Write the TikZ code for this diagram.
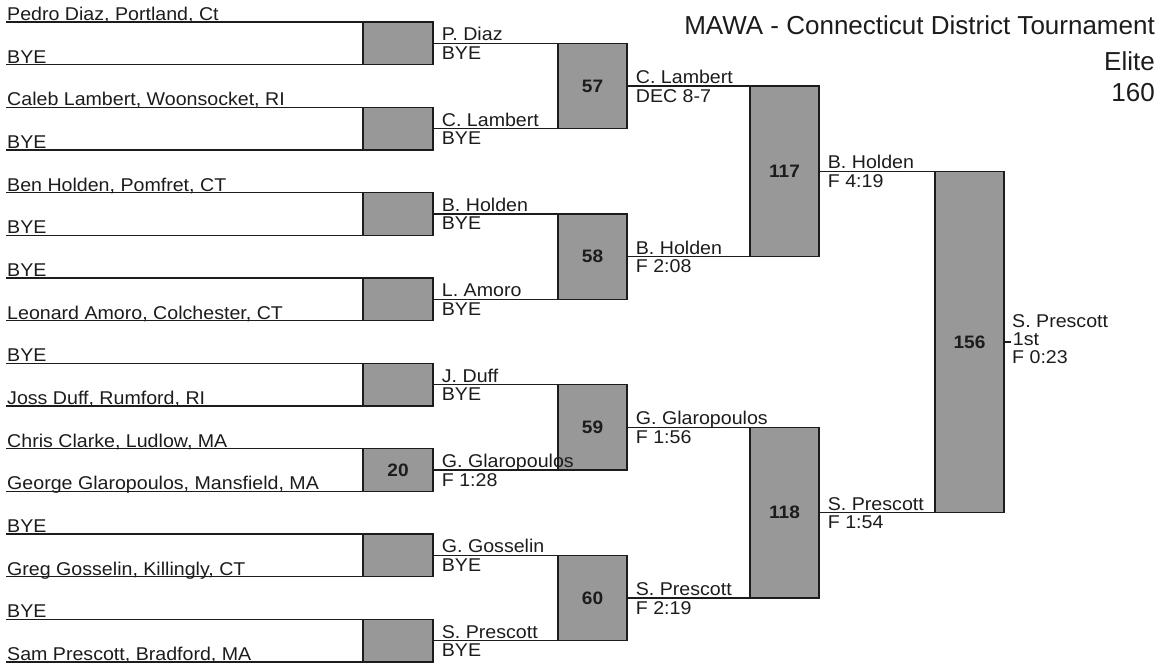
\documentclass[tikz,border=0pt]{standalone}
\usepackage{fontspec}
\setmainfont{Liberation Sans}
\newfontfamily\stretchfont{Liberation Sans}[FakeStretch=1.06]
\definecolor{boxgray}{RGB}{152,152,152}
\definecolor{ink}{RGB}{28,28,28}
\begin{document}
\begin{tikzpicture}[x=1pt,y=-1pt,
  line/.style={draw=ink, line width=1.4pt},
  box/.style={draw=ink, line width=1.4pt, fill=boxgray, inner sep=0pt, text=ink,
    font=\stretchfont\bfseries\fontsize{18}{18}\selectfont},
  pname/.style={anchor=base west, inner sep=0pt, text=ink,
    font=\stretchfont\fontsize{18.5}{20}\selectfont},
  toplab/.style={anchor=base west, inner sep=0pt, text=ink, xshift=8pt, yshift=2.5pt,
    font=\stretchfont\fontsize{18.5}{20}\selectfont},
  botlab/.style={anchor=north west, inner sep=0pt, text=ink, xshift=8pt, yshift=-3pt,
    font=\stretchfont\fontsize{18.5}{20}\selectfont},
  title/.style={anchor=base east, inner sep=0pt, text=ink, font=\fontsize{26}{28}\selectfont},
  r1box/.style={box, minimum width=70pt, minimum height=42.67pt},
  r2box/.style={box, minimum width=69pt, minimum height=85.33pt},
  r3box/.style={box, minimum width=69pt, minimum height=170.67pt},
  r4box/.style={box, minimum width=69pt, minimum height=341.33pt}
]
\useasboundingbox (0,0) rectangle (1158,667);

% boxes
\foreach \j/\num in {0/,1/,2/,3/,4/,5/20,6/,7/}{
  \node[r1box] (a\j) at (398,{43.33+85.33*\j}) {\num};
}
\foreach \i/\num in {0/57,1/58,2/59,3/60}{
  \node[r2box] (b\i) at (592.5,{86+170.67*\i}) {\num};
}
\node[r3box] (c0) at (784.5,171.33) {117};
\node[r3box] (c1) at (784.5,512.67) {118};
\node[r4box] (d) at (969.5,342) {156};

% entrants
\foreach \k/\txt in {0/{Pedro Diaz, Portland, Ct},1/BYE,2/{Caleb Lambert, Woonsocket, RI},3/BYE,
  4/{Ben Holden, Pomfret, CT},5/BYE,6/BYE,7/{Leonard Amoro, Colchester, CT},
  8/BYE,9/{Joss Duff, Rumford, RI},10/{Chris Clarke, Ludlow, MA},11/{George Glaropoulos, Mansfield, MA},
  12/BYE,13/{Greg Gosselin, Killingly, CT},14/BYE,15/{Sam Prescott, Bradford, MA}}{
  \pgfmathtruncatemacro\j{div(\k,2)}
  \coordinate (L\k) at (6,{22+42.67*\k});
  \draw[line] (L\k) -- (L\k -| a\j.west);
  \node[pname] (n\k) at ([xshift=1pt,yshift=1.5pt]L\k) {\txt};
}

% round 1 -> round 2
\foreach \j in {0,...,7}{
  \pgfmathtruncatemacro\i{div(\j,2)}
  \draw[line] (a\j.east) -- (a\j.east -| b\i.west);
}
% round 2 -> round 3
\foreach \i in {0,1,2,3}{
  \pgfmathtruncatemacro\h{div(\i,2)}
  \draw[line] (b\i.east) -- (b\i.east -| c\h.west);
}
% round 3 -> round 4
\draw[line] (c0.east) -- (c0.east -| d.west);
\draw[line] (c1.east) -- (c1.east -| d.west);
\coordinate (fin) at ([xshift=6pt]d.east);
\draw[line] (d.east) -- (fin);

% labels
\foreach \j/\t/\b in {0/P. Diaz/BYE,1/C. Lambert/BYE,2/B. Holden/BYE,3/L. Amoro/BYE,
  4/J. Duff/BYE,5/G. Glaropoulos/F 1:28,6/G. Gosselin/BYE,7/S. Prescott/BYE}{
  \node[toplab] at (a\j.east) {\t};
  \node[botlab] at (a\j.east) {\b};
}
\foreach \i/\t/\b in {0/C. Lambert/DEC 8-7,1/B. Holden/F 2:08,2/G. Glaropoulos/F 1:56,3/S. Prescott/F 2:19}{
  \node[toplab] at (b\i.east) {\t};
  \node[botlab] at (b\i.east) {\b};
}
\foreach \i/\t/\b in {0/B. Holden/F 4:19,1/S. Prescott/F 1:54}{
  \node[toplab] at (c\i.east) {\t};
  \node[botlab] at (c\i.east) {\b};
}
\node[pname] (w1) at (1012,327) {S. Prescott};
\node[pname] (w2) at ([xshift=2pt,yshift=-3pt]fin) {1st};
\node[pname] (w3) at (1012,363) {F 0:23};

% title
\node[title] (t1) at (1155,34) {MAWA - Connecticut District Tournament};
\node[title] (t2) at (1155,70) {Elite};
\node[title] (t3) at (1155,101) {160};
\end{tikzpicture}
\end{document}
